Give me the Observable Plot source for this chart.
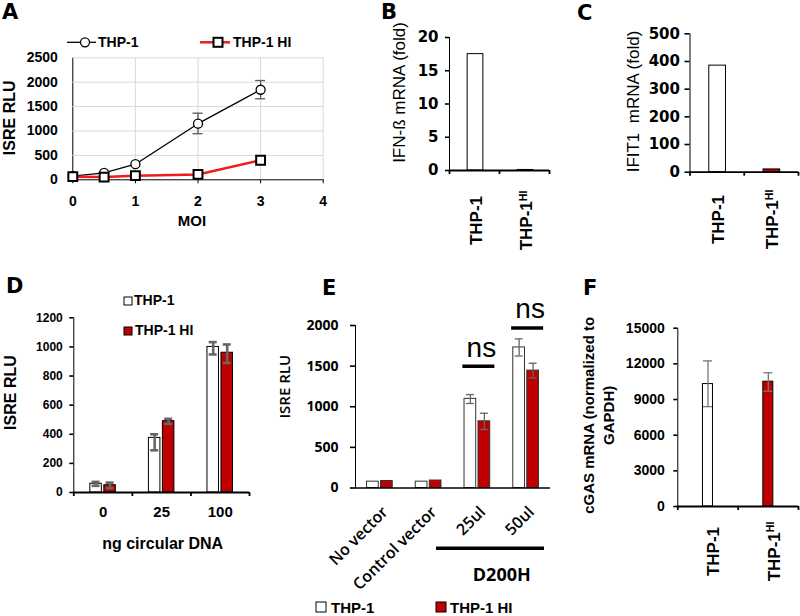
<!DOCTYPE html>
<html><head><meta charset="utf-8">
<script src="https://cdn.jsdelivr.net/npm/d3@7"></script>
<script src="https://cdn.jsdelivr.net/npm/@observablehq/plot@0.6"></script>
<style>
body{margin:0;background:#fff;}
#fig{position:relative;width:800px;height:616px;overflow:hidden;background:#fff;}
#fig svg g[aria-label^="y-axis"] path, #fig svg g[aria-label^="y-axis"] line{stroke-width:1.6;}
</style></head><body>
<div id="fig">
<svg id="ov" width="800" height="616" style="position:absolute;left:0;top:0;pointer-events:none;z-index:5">
<g font-family="DejaVu Sans, sans-serif" font-weight="bold" font-size="21" fill="black">
<text x="2" y="18.5">A</text><text x="381" y="19">B</text><text x="577" y="19.5">C</text>
<text x="6" y="293">D</text><text x="322" y="295">E</text><text x="583" y="294.5">F</text>
</g>
<g font-family="Liberation Sans, Arial, sans-serif" font-weight="bold" font-size="14" fill="black">
<line x1="67" y1="42.3" x2="96" y2="42.3" stroke="black" stroke-width="1.3"/>
<circle cx="85" cy="42.3" r="4.5" fill="white" stroke="black" stroke-width="1.3"/>
<text x="98" y="47.3">THP-1</text>
<line x1="200" y1="42.3" x2="230" y2="42.3" stroke="#ee1c1c" stroke-width="2.5"/>
<rect x="213.5" y="37.8" width="9" height="9" fill="white" stroke="black" stroke-width="2"/>
<text x="233" y="47.3">THP-1 HI</text>
<rect x="124" y="297" width="8" height="8" fill="white" stroke="black" stroke-width="1"/>
<text x="134" y="304.5">THP-1</text>
<rect x="124" y="327" width="8" height="8" fill="#c00000" stroke="black" stroke-width="1"/>
<text x="135" y="335">THP-1 HI</text>
</g>
<g font-family="Liberation Sans, Arial, sans-serif" font-weight="bold" font-size="15" fill="black">
<rect x="316" y="602" width="10" height="10" fill="white" stroke="black" stroke-width="1"/>
<text x="331" y="613">THP-1</text>
<rect x="436" y="602" width="10" height="10" fill="#c00000" stroke="black" stroke-width="1"/>
<text x="450" y="613">THP-1 HI</text>
</g>
</svg>
</div>
<script>
// ---------- Data ----------
// Panel A
const moi = [0, 0.5, 1, 2, 3];
const isreThp1 = [75, 140, 320, 1150, 1845];
const isreThp1Lo = [null, null, null, 945, 1660];
const isreThp1Hi = [null, null, null, 1365, 2035];
const isreThp1HI = [65, 55, 85, 110, 400];
const aYTicks = [0, 500, 1000, 1500, 2000, 2500];
const aXTicks = [0, 1, 2, 3, 4];
// Panels B, C, F
const cellLines = ["THP-1", "THP-1HI"];
const ifnbFold = [17.5, 0.08];
const bYTicks = [0, 5, 10, 15, 20];
const ifit1Fold = [385, 10];
const cYTicks = [0, 100, 200, 300, 400, 500];
const cgasMrna = [10300, 10500];
const cgasLo = [8400, 9700];
const cgasHi = [12250, 11250];
const fYTicks = [0, 3000, 6000, 9000, 12000, 15000];
// Panel D
const dnaNg = ["0", "25", "100"];
const dThp1 = [60, 375, 1000];
const dThp1Lo = [46, 290, 948];
const dThp1Hi = [73, 400, 1033];
const dHI = [50, 490, 960];
const dHILo = [30, 472, 890];
const dHIHi = [68, 506, 1017];
const dYTicks = [0, 200, 400, 600, 800, 1000, 1200];
// Panel E
const eCats = ["No vector", "Control vector", "25ul", "50ul"];
const eThp1 = [78, 78, 1097, 1730];
const eThp1Lo = [null, null, 1040, 1625];
const eThp1Hi = [null, null, 1150, 1835];
const eHI = [86, 92, 821, 1445];
const eHILo = [null, null, 720, 1355];
const eHIHi = [null, null, 920, 1535];
const eYTicks = [0, 500, 1000, 1500, 2000];
const nsCats = ["25ul", "50ul"];
const nsLevel = [1500, 1970];
const bracket = [{from: "25ul", to: "50ul", label: "D200H", y: 0}];

const RED = "#c00000";
const fig = document.getElementById("fig");
const ARIAL = "Liberation Sans, Arial, sans-serif";
const fmt = d => String(d);

function place(svg, left, top) {
  svg.style.position = "absolute";
  svg.style.left = left + "px";
  svg.style.top = top + "px";
  svg.style.background = "transparent";
  svg.style.maxWidth = "none";
  svg.style.color = "black";
  svg.querySelectorAll("text").forEach(t => {
    if (t.textContent === "THP-1HI") {
      t.textContent = "THP-1";
      const ts = document.createElementNS("http://www.w3.org/2000/svg", "tspan");
      ts.setAttribute("dy", "-0.5em");
      ts.setAttribute("font-size", "0.62em");
      ts.textContent = "HI";
      t.appendChild(ts);
    }
  });
  fig.appendChild(svg);
}

function yLabel(text, o) {
  return Plot.text([text], {frameAnchor: "left", rotate: -90, textAnchor: "middle", lineAnchor: "middle",
    dx: o.dx, dy: o.dy, fontSize: o.size, fontWeight: o.weight, fontFamily: o.family || ARIAL, lineHeight: o.lh || 1});
}

// ---------- Panel A ----------
const aRows = moi.map((m, i) => ({moi: m, thp1: isreThp1[i], lo: isreThp1Lo[i], hi: isreThp1Hi[i], hiCell: isreThp1HI[i]}));
const aErr = aRows.filter(d => d.lo != null);
const errA = {stroke: "#595959", strokeWidth: 1.3};
place(Plot.plot({
  width: 340, height: 235, marginLeft: 72.3, marginRight: 17.3, marginTop: 57.3, marginBottom: 55.7,
  style: {fontFamily: ARIAL, fontSize: "14px", fontWeight: "bold", background: "transparent", overflow: "visible"},
  x: {domain: [0, 4], ticks: aXTicks, tickFormat: fmt, tickSize: 4, tickPadding: 12, line: true, label: null},
  y: {domain: [0, 2500], ticks: aYTicks, tickFormat: fmt, tickSize: 0, tickPadding: 15, line: true, label: null},
  marks: [
    Plot.ruleY(aYTicks.slice(1), {stroke: "#d9d9d9"}),
    Plot.ruleX(aXTicks.slice(1), {stroke: "#d9d9d9"}),
    Plot.ruleX(aErr, {x: "moi", y1: "lo", y2: "hi", ...errA}),
    Plot.ruleY(aErr, {x1: "moi", x2: "moi", y: "lo", insetLeft: -5, insetRight: -5, ...errA}),
    Plot.ruleY(aErr, {x1: "moi", x2: "moi", y: "hi", insetLeft: -5, insetRight: -5, ...errA}),
    Plot.line(aRows, {x: "moi", y: "thp1", stroke: "black", strokeWidth: 1.3}),
    Plot.line(aRows, {x: "moi", y: "hiCell", stroke: "#ee1c1c", strokeWidth: 2.5}),
    Plot.dot(aRows, {x: "moi", y: "thp1", r: 4.5, fill: "white", stroke: "black", strokeWidth: 1.3}),
    Plot.dot(aRows, {x: "moi", y: "hiCell", symbol: "square", r: 5, fill: "white", stroke: "black", strokeWidth: 2}),
    yLabel("ISRE RLU", {dx: -62.8, dy: -1, size: 16, weight: "bold"}),
    Plot.text(["MOI"], {frameAnchor: "bottom", textAnchor: "middle", dx: -6, dy: 46.4, lineAnchor: "bottom", fontSize: 15, fontWeight: "bold", fontFamily: ARIAL})
  ]
}), 0, 0);

// ---------- generic bar panel ----------
function barPanel(o) {
  const n = o.cats.length;
  const bw = (o.width - o.ml - o.mr) / n;
  const bars = [], errs = [];
  for (const s of o.series) {
    const rows = o.cats.map((c, i) => ({cat: c, v: s.values[i], lo: s.lo ? s.lo[i] : null, hi: s.hi ? s.hi[i] : null})).filter(d => d.v != null);
    bars.push(Plot.barY(rows, {x: "cat", y: "v", fill: s.fill, stroke: o.barStroke, strokeWidth: 1,
      insetLeft: bw / 2 + s.off - o.barW / 2, insetRight: bw / 2 - s.off - o.barW / 2}));
    const er = rows.filter(d => d.lo != null && d.hi != null);
    if (er.length) {
      const st = {stroke: o.errColor, strokeWidth: o.errW};
      const cap = {insetLeft: bw / 2 + s.off - o.capW / 2, insetRight: bw / 2 - s.off - o.capW / 2};
      errs.push(Plot.ruleX(er, {x: "cat", y1: "lo", y2: "hi", dx: s.off, ...st}));
      errs.push(Plot.tickY(er, {x: "cat", y: "lo", ...cap, ...st}));
      errs.push(Plot.tickY(er, {x: "cat", y: "hi", ...cap, ...st}));
    }
  }
  const axis = [Plot.ruleY([0], {stroke: "black", strokeWidth: o.axisW})];
  if (o.tick) {
    const tk = {x: d => d, y1: 0, y2: 0, insetBottom: -o.tick, stroke: "black", strokeWidth: o.axisW};
    axis.push(Plot.ruleX(o.cats, {...tk, dx: -bw / 2}));
    axis.push(Plot.ruleX(o.cats.slice(-1), {...tk, dx: bw / 2}));
  }
  return {bw, marks: [...bars, ...errs, ...axis]};
}

function singleSeries(cats, values, fills, off, lo, hi) {
  return cats.map((c, i) => ({
    fill: fills[i], off,
    values: cats.map((_, k) => k === i ? values[i] : null),
    lo: lo ? cats.map((_, k) => k === i ? lo[i] : null) : null,
    hi: hi ? cats.map((_, k) => k === i ? hi[i] : null) : null
  }));
}

function catLabels(cats, o) {
  return Plot.text(cats, {x: d => d, frameAnchor: "bottom", rotate: -90, textAnchor: "middle", lineAnchor: "middle",
    dx: o.dx, dy: o.dy, fontSize: 17, fontWeight: "bold", fontFamily: ARIAL});
}

// ---------- Panel B ----------
{
  const o = {width: 175, height: 260, ml: 69, mr: 6, mt: 37, mb: 90, cats: cellLines,
    series: singleSeries(cellLines, ifnbFold, ["white", RED], 1), barW: 15.7, barStroke: "black",
    errColor: "#666", errW: 1.2, capW: 8, axisW: 1.8, tick: 4};
  const p = barPanel(o);
  place(Plot.plot({
    width: o.width, height: o.height, marginLeft: o.ml, marginRight: o.mr, marginTop: o.mt, marginBottom: o.mb,
    style: {fontFamily: "DejaVu Sans, sans-serif", fontSize: "15px", fontWeight: "bold", overflow: "visible"},
    x: {type: "band", domain: cellLines, padding: 0, round: false, axis: null},
    y: {domain: [0, 20], ticks: bYTicks, tickFormat: fmt, tickSize: 4, tickPadding: 7, line: true, label: null},
    marks: [...p.marks,
      catLabels(cellLines, {dx: 2.5, dy: 50}),
      yLabel("IFN-ß mRNA (fold)", {dx: -50, dy: -11.5, size: 17, weight: "normal"})
    ]
  }), 380, 0);
}

// ---------- Panel C ----------
{
  const o = {width: 220, height: 260, ml: 109.5, mr: 2, mt: 33.3, mb: 88.3, cats: cellLines,
    series: singleSeries(cellLines, ifit1Fold, ["white", RED], 0.5), barW: 16.7, barStroke: "black",
    errColor: "#666", errW: 1.2, capW: 8, axisW: 1.8, tick: 4};
  const p = barPanel(o);
  place(Plot.plot({
    width: o.width, height: o.height, marginLeft: o.ml, marginRight: o.mr, marginTop: o.mt, marginBottom: o.mb,
    style: {fontFamily: "DejaVu Sans, sans-serif", fontSize: "15px", fontWeight: "bold", overflow: "visible"},
    x: {type: "band", domain: cellLines, padding: 0, round: false, axis: null},
    y: {domain: [0, 500], ticks: cYTicks, tickFormat: fmt, tickSize: 5, tickPadding: 5, line: true, label: null},
    marks: [...p.marks,
      catLabels(cellLines, {dx: 1, dy: 47.3}),
      yLabel("IFIT1  mRNA (fold)", {dx: -56.5, dy: -1.5, size: 17, weight: "normal"})
    ]
  }), 580, 0);
}

// ---------- Panel D ----------
{
  const o = {width: 260, height: 290, ml: 73.3, mr: 11, mt: 37.3, mb: 78, cats: dnaNg,
    series: [
      {fill: "white", off: -7, values: dThp1, lo: dThp1Lo, hi: dThp1Hi},
      {fill: RED, off: 7, values: dHI, lo: dHILo, hi: dHIHi}
    ], barW: 11.5, barStroke: "black", errColor: "#666", errW: 2.6, capW: 8, axisW: 1.8, tick: 4};
  const p = barPanel(o);
  place(Plot.plot({
    width: o.width, height: o.height, marginLeft: o.ml, marginRight: o.mr, marginTop: o.mt, marginBottom: o.mb,
    style: {fontFamily: ARIAL, fontSize: "12px", fontWeight: "bold", overflow: "visible"},
    x: {type: "band", domain: dnaNg, padding: 0, round: false, axis: null},
    y: {domain: [0, 1200], ticks: dYTicks, tickFormat: fmt, tickSize: 4, tickPadding: 7, line: true, label: null},
    marks: [...p.marks,
      Plot.text(dnaNg, {x: d => d, frameAnchor: "bottom", textAnchor: "middle", dy: 19.7, lineAnchor: "middle", fontSize: 15, fontWeight: "bold", fontFamily: ARIAL}),
      Plot.text(["ng circular DNA"], {frameAnchor: "bottom", textAnchor: "middle", dx: 1, dy: 51, lineAnchor: "middle", fontSize: 16, fontWeight: "bold", fontFamily: ARIAL}),
      yLabel("ISRE RLU", {dx: -63.3, dy: -12.6, size: 16, weight: "bold"})
    ]
  }), 0, 280);
}

// ---------- Panel E ----------
{
  const OPEN = "Open Sans, sans-serif";
  const o = {width: 300, height: 336, ml: 95, mr: 10, mt: 45, mb: 128.5, cats: eCats,
    series: [
      {fill: "white", off: -7, values: eThp1, lo: eThp1Lo, hi: eThp1Hi},
      {fill: RED, off: 7, values: eHI, lo: eHILo, hi: eHIHi}
    ], barW: 11.7, barStroke: "#333", errColor: "#666", errW: 1.3, capW: 8, axisW: 1.6, tick: 0};
  const p = barPanel(o);
  const bw = p.bw;
  const nsData = nsCats.map((c, i) => ({cat: c, y: nsLevel[i], label: "ns"}));
  place(Plot.plot({
    width: o.width, height: o.height, marginLeft: o.ml, marginRight: o.mr, marginTop: o.mt, marginBottom: o.mb,
    style: {fontFamily: OPEN, fontSize: "14px", fontWeight: "bold", overflow: "visible"},
    x: {type: "band", domain: eCats, padding: 0, round: false, axis: null},
    y: {domain: [0, 2000], ticks: eYTicks, tickFormat: fmt, tickSize: 5, tickPadding: 12, line: true, label: null},
    marks: [...p.marks,
      Plot.tickY(nsData, {x: "cat", y: "y", stroke: "black", strokeWidth: 3.5, insetLeft: bw / 2 - 16 + 1.5, insetRight: bw / 2 - 16 - 1.5}),
      Plot.text(nsData, {x: "cat", y: "y", text: "label", textAnchor: "middle", dx: 4, dy: -9.5, lineAnchor: "bottom", fontSize: 28, fontWeight: "normal", fontFamily: ARIAL}),
      Plot.text(eCats, {x: d => d, frameAnchor: "bottom", rotate: -45, textAnchor: "end", lineAnchor: "bottom", dx: 9, dy: 25, fontSize: 16, fontWeight: 600, fontFamily: OPEN}),
      Plot.ruleY(bracket, {x1: "from", x2: "to", y: "y", dy: 60.2, insetLeft: -16.5, insetRight: 6, stroke: "black", strokeWidth: 3.5}),
      Plot.text(bracket, {x: "from", text: "label", frameAnchor: "bottom", textAnchor: "middle", dx: bw / 2, dy: 92.5, lineAnchor: "bottom", fontSize: 18, fontWeight: "bold", fontFamily: OPEN}),
      yLabel("ISRE RLU", {dx: -70, dy: -20, size: 15, weight: 600, family: OPEN})
    ]
  }), 260, 280);
}

// ---------- Panel F ----------
{
  const o = {width: 240, height: 300, ml: 117.3, mr: 2, mt: 47.7, mb: 74, cats: cellLines,
    series: singleSeries(cellLines, cgasMrna, ["white", RED], 0, cgasLo, cgasHi), barW: 10, barStroke: "black",
    errColor: "#777", errW: 1.3, capW: 9, axisW: 1.8, tick: 4};
  const p = barPanel(o);
  place(Plot.plot({
    width: o.width, height: o.height, marginLeft: o.ml, marginRight: o.mr, marginTop: o.mt, marginBottom: o.mb,
    style: {fontFamily: ARIAL, fontSize: "14px", fontWeight: "bold", overflow: "visible"},
    x: {type: "band", domain: cellLines, padding: 0, round: false, axis: null},
    y: {domain: [0, 15000], ticks: fYTicks, tickFormat: fmt, tickSize: 4, tickPadding: 9, line: true, label: null},
    marks: [...p.marks,
      catLabels(cellLines, {dx: 6, dy: 45}),
      yLabel("cGAS mRNA (normalized to\nGAPDH)", {dx: -80.3, dy: -2, size: 15, weight: "bold", lh: 1.33})
    ]
  }), 560, 280);
}
</script>
</body></html>
